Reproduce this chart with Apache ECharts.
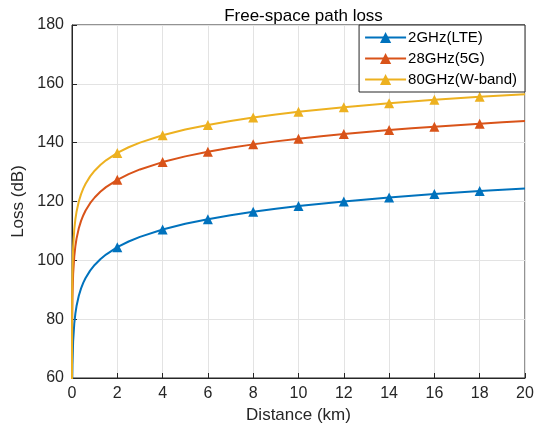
<!DOCTYPE html>
<html>
<head>
<meta charset="utf-8">
<script src="https://cdn.jsdelivr.net/npm/echarts@6/dist/echarts.min.js"></script>
<style>html,body{margin:0;padding:0;background:#fff;}#c{width:542px;height:433px;}</style>
</head>
<body>
<div id="c"></div>
<script>
const distances = [0.0002, 0.001, 0.005, 0.01, 0.02, 0.05, 0.1, 0.15, 0.2, 0.3, 0.4, 0.5, 0.6, 0.8, 1, 1.25, 1.5, 2, 2.5, 3, 4, 5, 6, 7, 8, 9, 10, 11, 12, 13, 14, 15, 16, 17, 18, 19, 20];
const lossLTE = [24.46, 38.44, 52.42, 58.44, 64.46, 72.42, 78.44, 81.96, 84.46, 87.98, 90.48, 92.42, 94.0, 96.5, 98.44, 100.38, 101.96, 104.46, 106.4, 107.98, 110.48, 112.42, 114.0, 115.34, 116.5, 117.52, 118.44, 119.26, 120.02, 120.72, 121.36, 121.96, 122.52, 123.04, 123.54, 124.02, 124.46];
const loss5G = [47.38, 61.36, 75.34, 81.36, 87.38, 95.34, 101.36, 104.88, 107.38, 110.9, 113.4, 115.34, 116.92, 119.42, 121.36, 123.3, 124.88, 127.38, 129.32, 130.9, 133.4, 135.34, 136.92, 138.26, 139.42, 140.44, 141.36, 142.18, 142.94, 143.64, 144.28, 144.88, 145.44, 145.96, 146.46, 146.94, 147.38];
const lossWband = [56.5, 70.48, 84.46, 90.48, 96.5, 104.46, 110.48, 114.0, 116.5, 120.02, 122.52, 124.46, 126.04, 128.54, 130.48, 132.42, 134.0, 136.5, 138.44, 140.02, 142.52, 144.46, 146.04, 147.38, 148.54, 149.56, 150.48, 151.3, 152.06, 152.76, 153.4, 154.0, 154.56, 155.08, 155.58, 156.06, 156.5];
const markerDistances = [2, 4, 6, 8, 10, 12, 14, 16, 18];
const seriesNames = ['2GHz(LTE)', '28GHz(5G)', '80GHz(W-band)'];
const seriesColors = ['#0072BD', '#D95319', '#EDB120'];
const titleText = 'Free-space path loss';
const xName = 'Distance (km)';
const yName = 'Loss (dB)';

const font = 'Arial, "Liberation Sans", Helvetica, sans-serif';
function build(vals) {
  return distances.map((d, i) => {
    const item = { value: [d, vals[i]] };
    if (markerDistances.indexOf(d) < 0) item.symbol = 'none';
    return item;
  });
}
const allVals = [lossLTE, loss5G, lossWband];
const chart = echarts.init(document.getElementById('c'), null, { renderer: 'canvas' });
chart.setOption({
  animation: false,
  backgroundColor: '#fff',
  title: {
    text: titleText, left: 298.5, top: 3, textAlign: 'center',
    textStyle: { fontFamily: font, fontSize: 17, fontWeight: 'normal', color: '#000' }
  },
  grid: { left: 72, right: 17, top: 25, bottom: 55, show: true, borderColor: '#262626', borderWidth: 1, backgroundColor: 'transparent' },
  legend: {
    orient: 'vertical', right: 17, top: 25,
    data: seriesNames,
    itemWidth: 41, itemHeight: 14, itemGap: 6,
    padding: [5, 8, 5, 5],
    borderColor: '#262626', borderWidth: 1, backgroundColor: '#fff',
    textStyle: { fontFamily: font, fontSize: 15, color: '#000', padding: [0, 0, 0, -3] }
  },
  xAxis: {
    type: 'value', min: 0, max: 20, interval: 2,
    name: xName, nameLocation: 'middle', nameGap: 28,
    nameTextStyle: { fontFamily: font, fontSize: 17, color: '#262626' },
    axisLine: { show: true, lineStyle: { color: '#262626', width: 1 } },
    axisTick: { show: true, inside: true, length: 5, lineStyle: { color: '#262626' } },
    axisLabel: { fontFamily: font, fontSize: 16, color: '#262626', margin: 8 },
    splitLine: { show: true, lineStyle: { color: '#e3e3e3', width: 1 } }
  },
  yAxis: {
    type: 'value', min: 60, max: 180, interval: 20,
    name: yName, nameLocation: 'middle', nameGap: 38,
    nameTextStyle: { fontFamily: font, fontSize: 17, color: '#262626' },
    axisLine: { show: true, lineStyle: { color: '#262626', width: 1 } },
    axisTick: { show: true, inside: true, length: 5, lineStyle: { color: '#262626' } },
    axisLabel: { fontFamily: font, fontSize: 16, color: '#262626', margin: 8 },
    splitLine: { show: true, lineStyle: { color: '#e3e3e3', width: 1 } }
  },
  series: seriesNames.map((n, k) => ({
    name: n, type: 'line', data: build(allVals[k]),
    symbol: 'triangle', symbolSize: 10, showSymbol: true,
    smooth: false, clip: true,
    lineStyle: { color: seriesColors[k], width: 2 },
    itemStyle: { color: seriesColors[k] }
  }))
});
</script>
</body>
</html>
